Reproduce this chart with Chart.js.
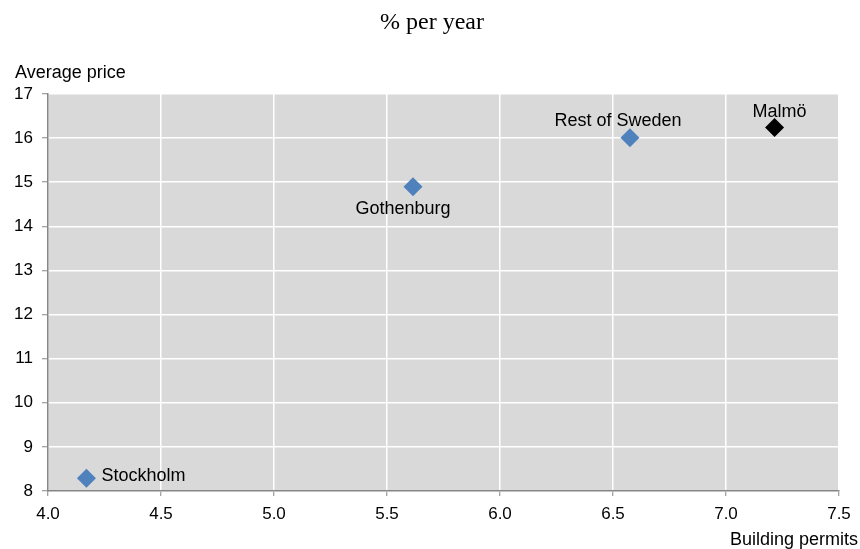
<!DOCTYPE html>
<html>
<head>
<meta charset="utf-8">
<script src="https://cdn.jsdelivr.net/npm/chart.js@4.4.1/dist/chart.umd.min.js"></script>
<style>
  html, body { margin: 0; padding: 0; background: #ffffff; }
  #wrap { width: 860px; height: 549px; position: relative; }
</style>
</head>
<body>
<div id="wrap"><canvas id="c" width="860" height="549"></canvas></div>
<script>
// Regions: building permits growth vs. average price growth (% per year)
const regions = ['Stockholm', 'Gothenburg', 'Rest of Sweden', 'Malmö'];
const buildingPermits = [4.17, 5.615, 6.575, 7.215];
const averagePrice = [8.29, 14.9, 16.01, 16.24];
const pointColors = ['#4F81BD', '#4F81BD', '#4F81BD', '#000000'];

// Where each region's label sits relative to its marker
const labelPlacement = ['right', 'below', 'above', 'above'];

const titleText = '% per year';
const yAxisTitle = 'Average price';
const xAxisTitle = 'Building permits';

const points = buildingPermits.map((x, i) => ({ x: x, y: averagePrice[i] }));

const plotBackground = {
  id: 'plotBackground',
  beforeDraw(chart) {
    const { ctx, chartArea: a } = chart;
    ctx.save();
    ctx.fillStyle = '#D9D9D9';
    ctx.fillRect(a.left, a.top, a.right - a.left, a.bottom - a.top);
    ctx.restore();
  }
};

const textOverlay = {
  id: 'textOverlay',
  afterDatasetsDraw(chart) {
    const { ctx } = chart;
    const meta = chart.getDatasetMeta(0);
    ctx.save();
    ctx.fillStyle = '#000000';
    ctx.font = '18px "Liberation Sans", Arial, sans-serif';
    meta.data.forEach((el, i) => {
      const p = labelPlacement[i];
      let x = el.x, y = el.y;
      if (p === 'right') { ctx.textAlign = 'left'; x += 15; y -= 2; }
      else if (p === 'below') { ctx.textAlign = 'center'; x -= 10; y += 22; }
      else { ctx.textAlign = 'center'; y -= 17; x += (i === 3 ? 5 : -12); if (i === 3) y += 2; }
      ctx.textBaseline = 'middle';
      ctx.fillText(regions[i], x, y);
    });

    // chart title
    ctx.font = '24px "Liberation Serif", "Times New Roman", serif';
    ctx.textAlign = 'center';
    ctx.textBaseline = 'middle';
    ctx.fillText(titleText, 432, 23);

    // axis titles
    ctx.font = '18px "Liberation Sans", Arial, sans-serif';
    ctx.textAlign = 'left';
    ctx.fillText(yAxisTitle, 15, 73);
    ctx.textAlign = 'right';
    ctx.fillText(xAxisTitle, 858, 540);
    ctx.restore();
  }
};

new Chart(document.getElementById('c'), {
  type: 'scatter',
  data: {
    datasets: [{
      data: points,
      pointStyle: 'rectRot',
      pointRadius: 9.5,
      pointHoverRadius: 9.5,
      pointBackgroundColor: pointColors,
      pointBorderColor: pointColors,
      pointBorderWidth: 0
    }]
  },
  plugins: [plotBackground, textOverlay],
  options: {
    responsive: false,
    animation: false,
    events: [],
    layout: { padding: { left: 0, top: 94, right: 21, bottom: 0 } },
    plugins: {
      legend: { display: false },
      tooltip: { enabled: false }
    },
    scales: {
      x: {
        type: 'linear',
        min: 4.0,
        max: 7.5,
        afterFit(s) { s.height = 58; },
        ticks: {
          stepSize: 0.5,
          color: '#000000',
          padding: 8,
          font: { family: '"Liberation Sans", Arial, sans-serif', size: 17 },
          callback: v => Number(v).toFixed(1),
          maxRotation: 0
        },
        grid: { color: '#FFFFFF', lineWidth: 1.5, tickColor: '#868686', tickLength: 5, tickWidth: 1 },
        border: { color: '#868686', width: 1.5 }
      },
      y: {
        type: 'linear',
        min: 8,
        max: 17,
        afterFit(s) { s.width = 48; },
        ticks: {
          stepSize: 1,
          color: '#000000',
          padding: 9,
          font: { family: '"Liberation Sans", Arial, sans-serif', size: 17 }
        },
        grid: { color: '#FFFFFF', lineWidth: 1.5, tickColor: '#868686', tickLength: 6, tickWidth: 1 },
        border: { color: '#868686', width: 1.5 }
      }
    }
  }
});
</script>
</body>
</html>
